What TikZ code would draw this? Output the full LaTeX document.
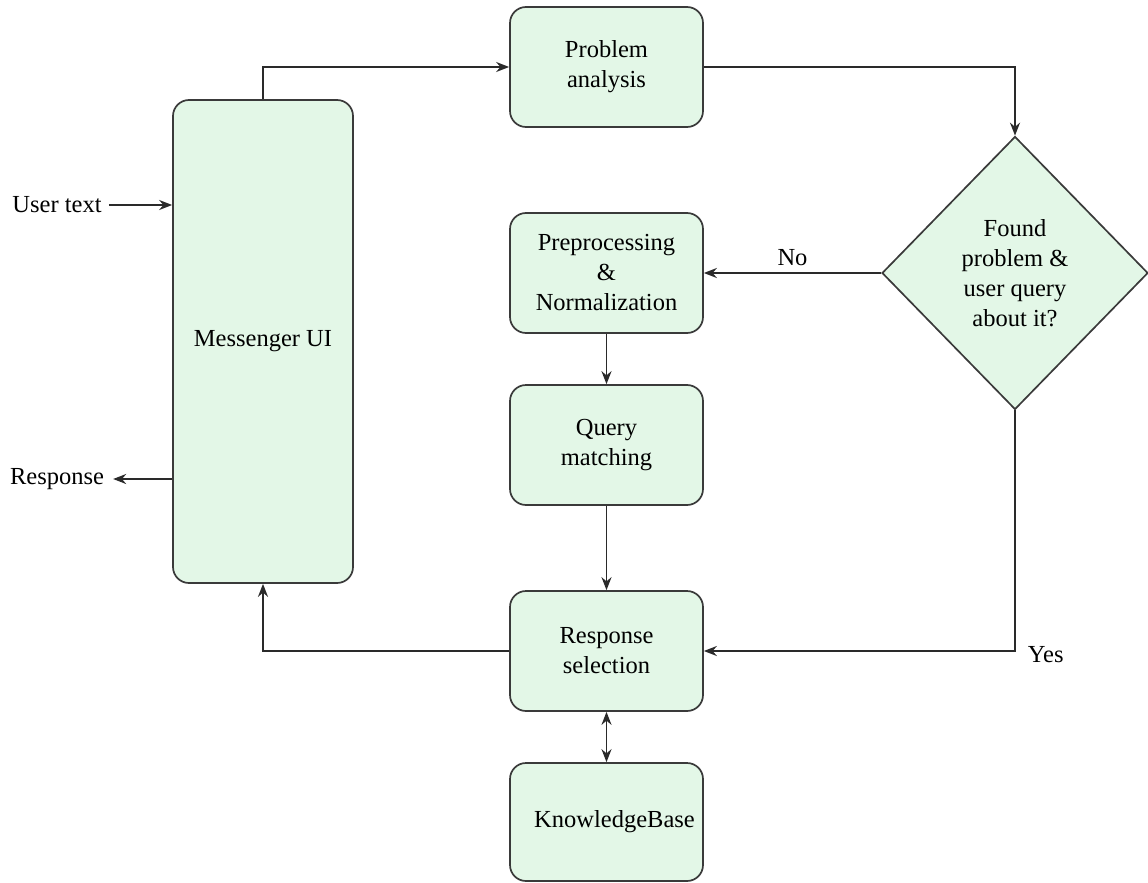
\documentclass[tikz,border=0pt]{standalone}
\usepackage{fontspec}
\setmainfont{Liberation Serif}
\usetikzlibrary{shapes.geometric,arrows.meta}
\definecolor{boxfill}{HTML}{E3F7E7}
\definecolor{boxdraw}{HTML}{3A3A3A}
\definecolor{linec}{HTML}{2A2A2A}
\tikzset{
  txt/.style={font=\rmfamily\fontsize{24.5}{30}\selectfont},
  box/.style={txt, draw=boxdraw, fill=boxfill, line width=1.7pt, rounded corners=16pt, align=center,
    minimum width=193pt, minimum height=120pt, inner sep=0pt},
  dec/.style={txt, draw=boxdraw, fill=boxfill, line width=1.7pt, diamond, align=center, inner sep=0pt,
    minimum width=266pt, minimum height=273pt},
  lbl/.style={txt, inner sep=0pt},
  arr/.style={draw=linec, line width=1.9pt, -{Stealth[length=13pt,width=10pt]}},
  arrb/.style={draw=linec, line width=1.9pt, {Stealth[length=13pt,width=10pt]}-{Stealth[length=13pt,width=10pt]}}
}
\begin{document}
\begin{tikzpicture}[x=1pt,y=-1pt]
\useasboundingbox (0,0) rectangle (1148,883);
\node[box] (pa) at (606.5,67) {Problem\\analysis};
\node[box, minimum width=180pt, minimum height=483pt] (mui) at (263,341.5) {Messenger UI};
\node[box] (pp) at (606.5,273) {Preprocessing\\\&\\Normalization};
\node[box] (qm) at (606.5,445) {Query\\matching};
\node[box] (rs) at (606.5,651) {Response\\selection};
\node[box, minimum height=118pt] (kb) at (606.5,822) {\hspace*{16pt}KnowledgeBase};
\node[dec] (dc) at (1015,273) {Found\\problem \&\\user query\\about it?};
\node[lbl] (ut) at (57,205) {User text};
\node[lbl] (rp) at (57,479) {Response};

\draw[arr] (mui.north) |- (pa.west);
\draw[arr] (pa.east) -| (dc.north);
\draw[arr] (dc.west) -- node[lbl, above=6pt]{No} (pp.east);
\draw[arr] (pp.south) -- (qm.north);
\draw[arr] (qm.south) -- (rs.north);
\draw[arr] (dc.south) |- node[lbl, pos=0.5, anchor=west, xshift=12pt, yshift=-4pt]{Yes} (rs.east);
\draw[arr] (rs.west) -| (mui.south);
\draw[arrb] (rs.south) -- (kb.north);
\draw[arr] ([xshift=7pt]ut.east) -- (mui.west |- ut.east);
\draw[arr] (mui.west |- rp.east) -- ([xshift=9pt]rp.east);
\end{tikzpicture}
\end{document}
